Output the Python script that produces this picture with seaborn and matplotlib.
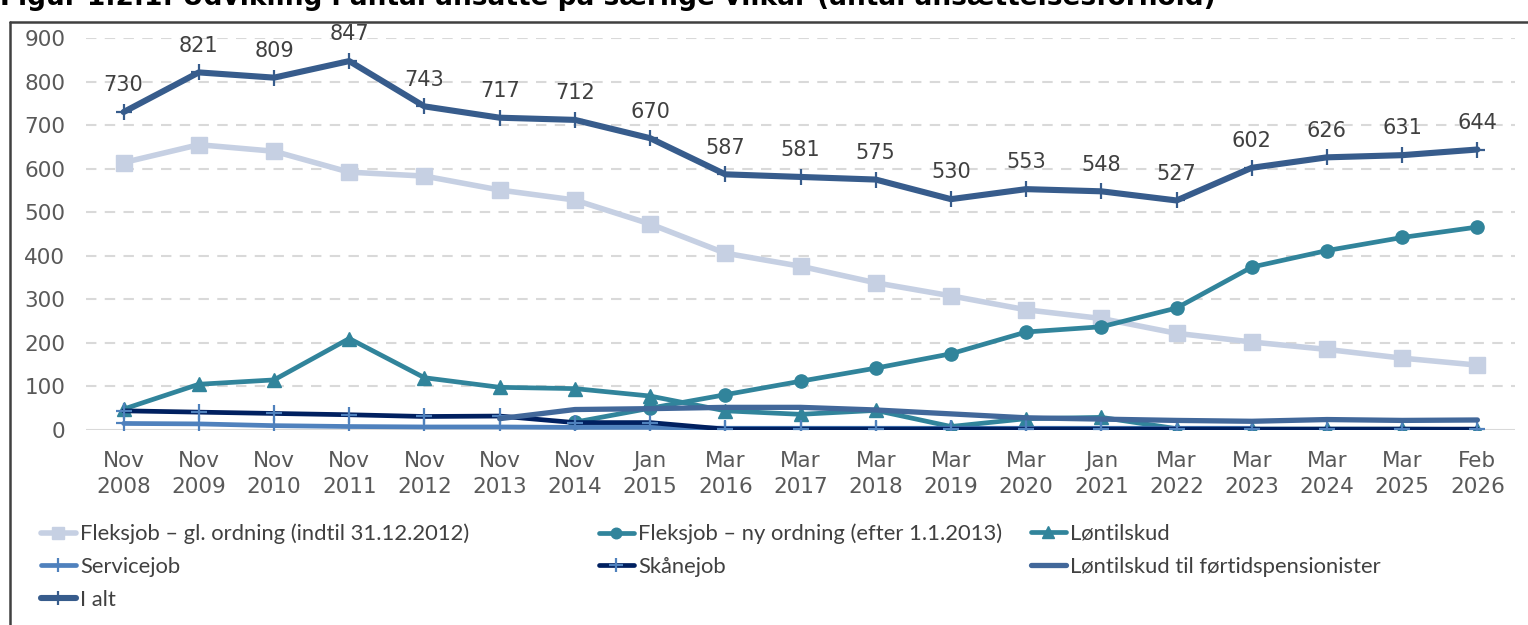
"""
Antal ansatte på særlige vilkår - line chart recreated with seaborn
"""

import numpy as np
import pandas as pd
import matplotlib
matplotlib.use("Agg")
import matplotlib.pyplot as plt
from matplotlib.lines import Line2D
import seaborn as sns

# ---- data -------------------------------------------------------------
periods = ["Nov\n2008", "Nov\n2009", "Nov\n2010", "Nov\n2011", "Nov\n2012",
           "Nov\n2013", "Nov\n2014", "Jan\n2015", "Mar\n2016", "Mar\n2017",
           "Mar\n2018", "Mar\n2019", "Mar\n2020", "Jan\n2021", "Mar\n2022",
           "Mar\n2023", "Mar\n2024", "Mar\n2025", "Feb\n2026"]

nan = np.nan
fleksjob_gl = [614, 655, 640, 592, 583, 551, 528, 473, 406, 376,
               338, 308, 276, 256, 222, 202, 185, 165, 149]
fleksjob_ny = [nan, nan, nan, nan, nan, nan, 18, 50, 81, 112,
               142, 175, 225, 237, 280, 374, 412, 442, 466]
loentilskud = [48, 105, 115, 210, 120, 98, 95, 78, 44, 36,
               45, 8, 26, 29, 3, 2, 2, 2, 1]
servicejob = [15, 14, 10, 8, 7, 7, 6, 6, 4, 4,
              4, 4, 4, 4, 4, 4, nan, nan, nan]
skaanejob = [44, 41, 38, 35, 31, 32, 17, 17, 2, 2,
             2, 2, 2, 2, 2, 2, 2, 2, 2]
loentilskud_fp = [nan, nan, nan, nan, nan, 26, 47, 49, 52, 52,
                  46, 37, 28, 25, 22, 20, 24, 22, 23]
i_alt = [730, 821, 809, 847, 743, 717, 712, 670, 587, 581,
         575, 530, 553, 548, 527, 602, 626, 631, 644]

names = ["Fleksjob – gl. ordning (indtil 31.12.2012)",
         "Fleksjob – ny ordning (efter 1.1.2013)",
         "Løntilskud",
         "Servicejob",
         "Skånejob",
         "Løntilskud til førtidspensionister",
         "I alt"]

title = "Figur 1.2.1: Udvikling i antal ansatte på særlige vilkår (antal ansættelsesforhold)"

# ---- styles per series ------------------------------------------------
styles = {
    names[0]: dict(color="#C6D0E3", marker="s", lw=4.0, ms=11, mec="#C6D0E3", mew=1),
    names[1]: dict(color="#31849B", marker="o", lw=3.4, ms=9.5, mec="#31849B", mew=1),
    names[2]: dict(color="#31849B", marker="^", lw=3.4, ms=10, mec="#31849B", mew=1),
    names[3]: dict(color="#4F81BD", marker="+", lw=3.4, ms=12, mec="#4F81BD", mew=1.6),
    names[4]: dict(color="#002060", marker="+", lw=3.4, ms=12, mec="#4F81BD", mew=1.6),
    names[5]: dict(color="#42689A", marker=None, lw=3.8, ms=0, mec="#42689A", mew=1),
    names[6]: dict(color="#375C8C", marker="+", lw=4.4, ms=12, mec="#375C8C", mew=1.6),
}

series = [fleksjob_gl, fleksjob_ny, loentilskud, servicejob,
          skaanejob, loentilskud_fp, i_alt]

x = np.arange(len(periods))
df = pd.DataFrame({"x": x})
for name, vals in zip(names, series):
    df[name] = vals

sns.set_style("white")
plt.rcParams["font.family"] = ["DejaVu Sans"]

fig = plt.figure(figsize=(15.28, 6.25), dpi=100)
ax = fig.add_axes([86 / 1528, 1 - 430 / 625, 1429 / 1528, 392 / 625])

for name in names:
    st = styles[name]
    sub = df[["x", name]].dropna()
    sns.lineplot(data=sub, x="x", y=name, ax=ax, color=st["color"],
                 linewidth=st["lw"], marker=st["marker"], markersize=st["ms"],
                 markeredgecolor=st["mec"], markeredgewidth=st["mew"],
                 markerfacecolor=st["color"], label=name, legend=False,
                 solid_capstyle="round", solid_joinstyle="round")

# data labels on the total
for xi, v in zip(x, i_alt):
    ax.annotate(f"{v}", (xi, v), xytext=(0, 12), textcoords="offset points",
                ha="center", va="bottom", fontsize=15, color="#404040")

ax.set_xlim(-0.5, len(periods) - 0.5)
ax.set_ylim(0, 900)
ax.set_yticks(range(0, 901, 100))
ax.set_xticks(x)
ax.set_xticklabels(periods, linespacing=1.4)
ax.set_xlabel("")
ax.set_ylabel("")
ax.tick_params(axis="both", length=0, labelsize=15.5, colors="#595959")
ax.tick_params(axis="x", pad=15)
ax.tick_params(axis="y", pad=15)

for yv in range(100, 901, 100):
    ax.axhline(yv, color="#D9D9D9", lw=1.5, ls=(0, (5, 4)), zorder=0)
ax.axhline(0, color="#D9D9D9", lw=1.5, zorder=0)
sns.despine(ax=ax, left=True, bottom=True)

# legend in three columns placed like the original
handles = {}
for name in names:
    st = styles[name]
    handles[name] = Line2D([], [], color=st["color"], lw=st["lw"],
                           marker=st["marker"], markersize=st["ms"] * 0.8,
                           markeredgecolor=st["mec"], markeredgewidth=st["mew"],
                           markerfacecolor=st["color"], solid_capstyle="round")

columns = [([names[0], names[3], names[6]], 32),
           ([names[1], names[4]], 590),
           ([names[2], names[5]], 1022)]
for entries, px in columns:
    leg = fig.legend([handles[n] for n in entries], entries,
                     loc="upper left", bbox_to_anchor=(px / 1528, 1 - 515 / 625),
                     frameon=False, handlelength=1.6, handletextpad=0.2,
                     labelspacing=0.58, borderaxespad=0,
                     prop={"family": ["Lato", "DejaVu Sans"], "size": 15.8})
    for t in leg.get_texts():
        t.set_color("#404040")

# outer frame (left and top edges visible) and clipped title
fig.add_artist(Line2D([10 / 1528, 10 / 1528], [0, 1 - 22 / 625],
                      transform=fig.transFigure, color="#404040", lw=1.8))
fig.add_artist(Line2D([10 / 1528, 1], [1 - 22 / 625, 1 - 22 / 625],
                      transform=fig.transFigure, color="#404040", lw=1.8))
fig.text(0.0, 1 - 5 / 625, title, ha="left", va="baseline",
         fontsize=19, fontweight="bold", color="black")

fig.savefig("out.png", dpi=100)
